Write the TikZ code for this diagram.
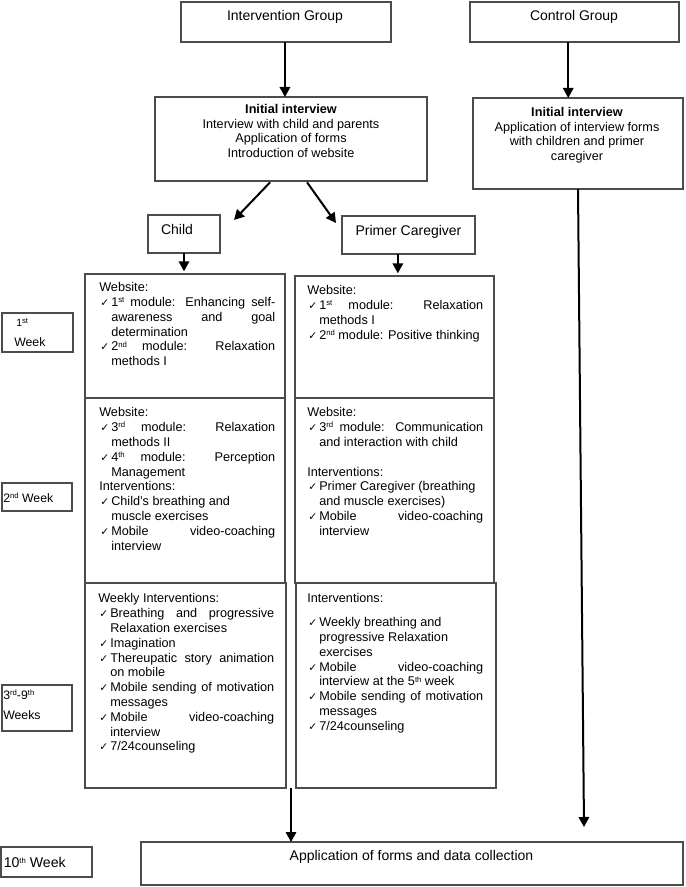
\documentclass[tikz,border=0pt]{standalone}
\usepackage{fontspec}
\setmainfont{Liberation Sans}
\newfontfamily\ckf{DejaVu Sans}
\usetikzlibrary{arrows.meta,calc}
\hbadness=10000
\newcommand\fl{\rule{0pt}{7pt}}
\newcommand\sps[1]{\raisebox{2.8pt}{\fontsize{5.8}{6}\selectfont #1}}
\newcommand\ck{\par\hangindent=9pt\hangafter=1\noindent\hbox to 9pt{\kern0.8pt{\ckf\fontsize{8}{8}\selectfont ✓}\hfil}\ignorespaces}
\newcommand\hd{\par\noindent}
\newcommand\bx[5]{\node[box,anchor=north west,minimum width={(#4-#2)*0.75pt},minimum height={(#5-#3)*0.75pt}] (#1) at (#2,#3) {};}
\begin{document}
\begin{tikzpicture}[x=0.75pt,y=-0.75pt,
  box/.style={draw=black!70,line width=0.8pt,inner sep=0pt,outer sep=0pt,rectangle},
  arr/.style={draw=black,line width=1.5pt,-{Triangle[length=7.5pt,width=7.8pt]}},
  lbl/.style={inner sep=0pt,anchor=base,font=\fontsize{10.5}{12}\selectfont},
  ctr/.style={inner sep=0pt,anchor=north,align=center,font=\fontsize{9.5}{11}\selectfont},
  txt/.style={inner sep=0pt,anchor=north west,text width=132pt,align=justify,font=\fontsize{9.5}{11.1}\selectfont},
  wl/.style={inner sep=0pt,anchor=base west,font=\fontsize{9.2}{11}\selectfont}]
\useasboundingbox (0,0) rectangle (685,887);
\fill[white] (0,0) rectangle (685,887);
% boxes
\bx{ig}{181}{2}{391}{42}
\bx{cg}{470}{2}{679}{42}
\bx{ii}{155}{97}{427}{181}
\bx{ci}{473}{98}{683}{189}
\bx{ch}{148}{215}{220}{253}
\bx{pc}{342}{216}{475}{254}
\bx{la}{85}{274}{285}{398}
\bx{lb}{85}{398}{285}{583}
\bx{lc}{85}{583}{286}{788}
\bx{ra}{295}{276}{494}{398}
\bx{rb}{295}{398}{494}{583}
\bx{rc}{296}{583}{496}{788}
\bx{fin}{141}{842}{683}{885}
\bx{wa}{2}{313}{73}{352}
\bx{wb}{2}{483}{72}{511}
\bx{wc}{2}{685}{72}{731}
\bx{wd}{1}{847}{92}{877}
% labels
\node[lbl] (tig) at (285,21) {Intervention Group};
\node[lbl] (tcg) at (574,21) {Control Group};
\node[lbl] (tch) at (177,235) {Child};
\node[lbl] (tpc) at (408.5,236) {Primer Caregiver};
\node[lbl] (tfin) at (411.5,860) {Application of forms and data collection};
\node[ctr] (tii) at (291,104) {\fl\textbf{Initial interview}\\Interview with child and parents\\Application of forms\\Introduction of website};
\node[ctr] (tci) at (577,107) {\fl\textbf{Initial interview}\\Application of interview forms\\with children and primer\\caregiver};
% week labels
\node[wl,font=\fontsize{7.8}{9}\selectfont] (twa1) at (16,327) {1\sps{st}};
\node[wl] (twa2) at (14,346) {Week};
\node[wl] (twb) at (3,502) {2\sps{nd} Week};
\node[wl] (twc1) at (3,699) {3\sps{rd}-9\sps{th}};
\node[wl] (twc2) at (3,719) {Weeks};
\node[wl,font=\fontsize{10.6}{12}\selectfont] (twd) at (3.5,867) {10\sps{th} Week};
% body texts
\node[txt] (tla) at (99,282.2) {\noindent\fl Website:
\ck 1\sps{st} module: Enhancing self-\linebreak awareness and goal\linebreak determination
\ck 2\sps{nd} module: Relaxation\linebreak methods I\par};
\node[txt] (tra) at (307,285.2) {\noindent\fl Website:
\ck 1\sps{st} module: Relaxation\linebreak methods I
\ck 2\sps{nd} module: Positive thinking\par};
\node[txt] (tlb) at (99,407.2) {\noindent\fl Website:
\ck 3\sps{rd} module: Relaxation\linebreak methods II
\ck 4\sps{th} module: Perception\linebreak Management
\hd Interventions:
\ck Child’s breathing and\newline muscle exercises
\ck Mobile video-coaching\linebreak interview\par};
\node[txt] (trb) at (307,407.2) {\noindent\fl Website:
\ck 3\sps{rd} module: Communication\linebreak and interaction with child
\par\vskip11.1pt
\hd Interventions:
\ck Primer Caregiver (breathing\newline and muscle exercises)
\ck Mobile video-coaching\linebreak interview\par};
\node[txt] (tlc) at (98,593.2) {\noindent\fl Weekly Interventions:
\ck Breathing and progressive\linebreak Relaxation exercises
\ck Imagination
\ck Thereupatic story animation\linebreak on mobile
\ck Mobile sending of motivation\linebreak messages
\ck Mobile video-coaching\linebreak interview
\ck 7/24counseling\par};
\node[txt] (trc) at (307,593.2) {\noindent\fl Interventions:
\par\vskip6.75pt
\ck Weekly breathing and\newline progressive Relaxation\newline exercises
\ck Mobile video-coaching\linebreak interview at the 5\sps{th} week
\ck Mobile sending of motivation\linebreak messages
\ck 7/24counseling\par};
% connectors
\coordinate (igo) at ($(ig.south west)!0.495!(ig.south east)$);
\draw[arr] (igo) -- (igo |- ii.north);
\coordinate (cgo) at ($(cg.south west)!0.47!(cg.south east)$);
\draw[arr] (cgo) -- (cgo |- ci.north);
\coordinate (iia) at ($(ii.south west)!0.423!(ii.south east)$);
\coordinate (chend) at ([shift={(14,5)}]ch.north east);
\draw[arr] ([yshift=-1pt]iia) -- (chend);
\coordinate (iib) at ($(ii.south west)!0.559!(ii.south east)$);
\coordinate (pcend) at ([shift={(-6,7)}]pc.north west);
\draw[arr] ([yshift=-1pt]iib) -- (pcend);
\draw[arr,shorten >=2pt] (ch.south) -- (ch.south |- la.north);
\coordinate (pco) at ($(pc.south west)!0.42!(pc.south east)$);
\draw[arr,shorten >=2pt] (pco) -- (pco |- ra.north);
\coordinate (mid) at ($(lc.south east)!0.5!(rc.south west)$);
\draw[arr] (mid) -- (mid |- fin.north);
\coordinate (cend) at (584,827);
\draw[arr] (ci.south) -- (cend);
\end{tikzpicture}
\end{document}
